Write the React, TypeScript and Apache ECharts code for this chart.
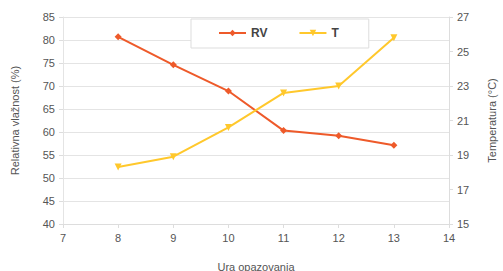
import React, { useEffect, useRef } from "react";
import * as echarts from "echarts";

const hours = [8, 9, 10, 11, 12, 13];
const rvValues = [80.7, 74.6, 68.9, 60.3, 59.2, 57.1];
const tValues = [18.3, 18.9, 20.6, 22.6, 23.0, 25.8];
const xTicks = [7, 8, 9, 10, 11, 12, 13, 14];
const leftTicks = [40, 45, 50, 55, 60, 65, 70, 75, 80, 85];
const rightTicks = [15, 17, 19, 21, 23, 25, 27];

const FONT = "Liberation Sans, Arial, sans-serif";
const TXT = "#555";

export default function App() {
  const ref = useRef<HTMLDivElement>(null);
  useEffect(() => {
    const chart = echarts.init(ref.current!, null, { renderer: "svg" });
    chart.setOption({
      animation: false,
      backgroundColor: "#fff",
      textStyle: { fontFamily: FONT },
      grid: { left: 63, right: 54, top: 17, bottom: 47, outerBoundsMode: "none", containLabel: false },
      legend: {
        top: 19,
        left: 191,
        width: 174,
        backgroundColor: "#fff",
        borderColor: "#ddd",
        borderWidth: 1,
        padding: [8, 30, 9, 27],
        itemGap: 31,
        itemWidth: 27,
        itemHeight: 8,
        textStyle: { color: "#444", fontSize: 12, fontWeight: "bold", fontFamily: FONT },
        data: ["RV", "T"],
      },
      xAxis: {
        type: "value",
        min: xTicks[0],
        max: xTicks[xTicks.length - 1],
        interval: 1,
        name: "Ura opazovanja",
        nameLocation: "middle",
        nameGap: 37,
        nameTextStyle: { color: TXT, fontSize: 11, fontFamily: FONT },
        axisLine: { show: true, lineStyle: { color: "#ddd" } },
        axisTick: { show: true, lineStyle: { color: "#ddd" }, length: 4 },
        axisLabel: { color: TXT, fontSize: 11, margin: 8 },
        splitLine: { show: false },
      },
      yAxis: [
        {
          type: "value",
          min: leftTicks[0],
          max: leftTicks[leftTicks.length - 1],
          interval: 5,
          name: "Relativna vlažnost (%)",
          nameLocation: "middle",
          nameGap: 43,
          nameTextStyle: { color: TXT, fontSize: 11, fontFamily: FONT },
          axisLine: { show: true, lineStyle: { color: "#e4e4e4" } },
          axisTick: { show: true, lineStyle: { color: "#ddd" }, length: 4 },
          axisLabel: { color: TXT, fontSize: 11, margin: 8 },
          splitLine: { show: true, lineStyle: { color: "#e4e4e4" } },
        },
        {
          type: "value",
          min: rightTicks[0],
          max: rightTicks[rightTicks.length - 1],
          interval: 2,
          name: "Temperatura (°C)",
          nameLocation: "middle",
          nameGap: 37,
          nameRotate: 90,
          nameTextStyle: { color: TXT, fontSize: 11, fontFamily: FONT },
          axisLine: { show: true, lineStyle: { color: "#ddd" } },
          axisTick: { show: true, lineStyle: { color: "#ddd" }, length: 4 },
          axisLabel: { color: TXT, fontSize: 11, margin: 8 },
          splitLine: { show: false },
        },
      ],
      series: [
        {
          name: "RV",
          type: "line",
          yAxisIndex: 0,
          data: hours.map((h, i) => [h, rvValues[i]]),
          color: "#EE5A2A",
          lineStyle: { width: 2, color: "#EE5A2A" },
          symbol: "diamond",
          symbolSize: 7,
          itemStyle: { color: "#EE5A2A" },
        },
        {
          name: "T",
          type: "line",
          yAxisIndex: 1,
          data: hours.map((h, i) => [h, tValues[i]]),
          color: "#FFC82C",
          lineStyle: { width: 2, color: "#FFC82C" },
          symbol: "triangle",
          symbolRotate: 180,
          symbolSize: 7,
          itemStyle: { color: "#FFC82C" },
        },
      ],
    });
    return () => chart.dispose();
  }, []);
  return <div ref={ref} style={{ width: 503, height: 271, position: "absolute", left: 0, top: 0 }} />;
}
